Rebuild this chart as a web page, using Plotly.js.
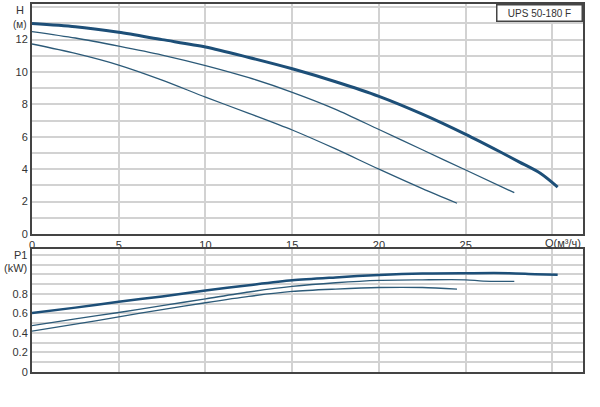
<!DOCTYPE html>
<html><head><meta charset="utf-8">
<script src="https://cdn.plot.ly/plotly-3.0.1.min.js"></script>
<style>html,body{margin:0;padding:0;background:#fff;}#c{width:600px;height:407px;}</style>
</head><body><div id="c"></div>
<script>
// Head curves (H vs Q)
const q1 = [0, 2.5, 5, 7.5, 10, 12.5, 15, 17.5, 20, 22.5, 25, 27, 28.1, 29.3, 30.3];
const h1 = [13.0, 12.8, 12.45, 12.0, 11.55, 10.9, 10.2, 9.4, 8.5, 7.4, 6.15, 5.06, 4.44, 3.75, 2.9];
const q2 = [0, 2.5, 5, 7.5, 10, 12.5, 15, 17.5, 20, 22.5, 25, 27.8];
const h2 = [12.5, 12.1, 11.6, 11.05, 10.4, 9.65, 8.75, 7.7, 6.45, 5.2, 3.95, 2.55];
const q3 = [0, 2.5, 5, 7.5, 10, 12.5, 15, 17.5, 20, 22.5, 24.5];
const h3 = [11.73, 11.15, 10.43, 9.5, 8.45, 7.45, 6.42, 5.25, 4.0, 2.8, 1.9];
// Power curves (P1 vs Q)
const pq1 = [0, 2.5, 5, 7.5, 10, 12.5, 15, 17.5, 20, 22.5, 25, 27.5, 29, 30.3];
const p1 = [0.605, 0.66, 0.72, 0.775, 0.835, 0.89, 0.94, 0.97, 0.995, 1.01, 1.013, 1.013, 1.003, 0.998];
const pq2 = [0, 2.5, 5, 7.5, 10, 12.5, 15, 17.5, 20, 22.5, 25, 26, 27.8];
const p2 = [0.476, 0.545, 0.61, 0.68, 0.75, 0.82, 0.877, 0.915, 0.94, 0.945, 0.945, 0.932, 0.93];
const pq3 = [0, 2.5, 5, 7.5, 10, 12.5, 15, 17.5, 20, 22.5, 24.5];
const p3 = [0.418, 0.49, 0.565, 0.64, 0.71, 0.775, 0.826, 0.85, 0.866, 0.866, 0.85];

const xTicks = [0, 5, 10, 15, 20, 25, 30];
const xLabels = ['0', '5', '10', '15', '20', '25', ''];
const hTicks = [0,1,2,3,4,5,6,7,8,9,10,11,12,13,14];
const hLabels = ['0','','2','','4','','6','','8','','10','','12','',''];
const pTicks = [0,0.1,0.2,0.3,0.4,0.5,0.6,0.7,0.8,0.9,1.0,1.1,1.2];
const pLabels = ['0','','0.2','','0.4','','0.6','','0.8','','','',''];
const model = 'UPS 50-180 F';

const thick = '#1d4f78', thin = '#2c5a78';
const sp = {shape:'spline', smoothing:0.8};
const traces = [
  {x:q1, y:h1, xaxis:'x', yaxis:'y', mode:'lines', line:Object.assign({color:thick, width:3}, sp), hoverinfo:'skip'},
  {x:q2, y:h2, xaxis:'x', yaxis:'y', mode:'lines', line:Object.assign({color:thin, width:1.3}, sp), hoverinfo:'skip'},
  {x:q3, y:h3, xaxis:'x', yaxis:'y', mode:'lines', line:Object.assign({color:thin, width:1.3}, sp), hoverinfo:'skip'},
  {x:pq1, y:p1, xaxis:'x2', yaxis:'y2', mode:'lines', line:Object.assign({color:thick, width:2.5}, sp), hoverinfo:'skip'},
  {x:pq2, y:p2, xaxis:'x2', yaxis:'y2', mode:'lines', line:Object.assign({color:thin, width:1.3}, sp), hoverinfo:'skip'},
  {x:pq3, y:p3, xaxis:'x2', yaxis:'y2', mode:'lines', line:Object.assign({color:thin, width:1.3}, sp), hoverinfo:'skip'}
];
const gridCol = '#d2d2d2';
const tf = {family:'Liberation Sans, Arial, sans-serif', size:11, color:'#333'};
function ax(extra) {
  return Object.assign({showline:true, mirror:true, linecolor:'#444', linewidth:2,
    showgrid:true, gridcolor:gridCol, gridwidth:2, zeroline:false, tickfont:tf, fixedrange:true}, extra);
}
const layout = {
  width:600, height:407, showlegend:false,
  margin:{l:32, r:17, t:4, b:35},
  paper_bgcolor:'#fff', plot_bgcolor:'#fff',
  xaxis: ax({anchor:'y', range:[0,31.76], tickmode:'array', tickvals:xTicks, ticktext:xLabels}),
  yaxis: ax({domain:[0.375,1], range:[0,14.2], tickmode:'array', tickvals:hTicks, ticktext:hLabels}),
  xaxis2: ax({anchor:'y2', range:[0,31.76], tickmode:'array', tickvals:xTicks, ticktext:xLabels, showticklabels:false}),
  yaxis2: ax({domain:[0,0.334], range:[0,1.26], tickmode:'array', tickvals:pTicks, ticktext:pLabels}),
  annotations:[
    {xref:'paper', yref:'y', x:0, y:13.85, xanchor:'right', xshift:-6, text:'H', showarrow:false, font:tf},
    {xref:'paper', yref:'y', x:0, y:12.95, xanchor:'right', xshift:-3, text:'(м)', showarrow:false, font:{family:tf.family, size:10, color:'#333'}},
    {xref:'paper', yref:'y2', x:0, y:1.2, xanchor:'right', xshift:-3, text:'P1', showarrow:false, font:tf},
    {xref:'paper', yref:'y2', x:0, y:1.07, xanchor:'right', xshift:-3, text:'(kW)', showarrow:false, font:tf},
    {xref:'paper', yref:'paper', x:1, y:0.375, xanchor:'right', yanchor:'top', yshift:-1, text:'Q(м³/ч)', showarrow:false, font:tf},
    {xref:'paper', yref:'paper', x:1, y:1, xanchor:'right', yanchor:'top', text:model, showarrow:false,
     font:{family:tf.family, size:10, color:'#333'}, bordercolor:'#444', borderwidth:1.5, bgcolor:'#fff', borderpad:2, width:80}
  ]
};
Plotly.newPlot('c', traces, layout, {displayModeBar:false, staticPlot:true});
</script></body></html>
